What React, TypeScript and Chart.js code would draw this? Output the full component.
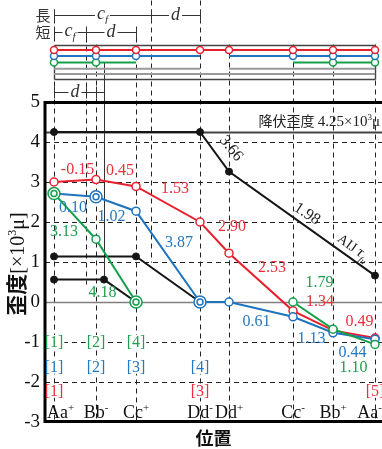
import React, { useEffect, useRef } from 'react';
import { Chart, registerables } from 'chart.js';

Chart.register(...registerables);

// ---------------- data ----------------
const POSITIONS = [0, 42, 82, 146, 175, 239, 279, 321];
const POSITION_NAMES = ['Aa', 'Bb', 'Cc', 'Dd', 'Dd', 'Cc', 'Bb', 'Aa'];
const POSITION_SIGNS = ['+', '-', '+', '-', '+', '-', '+', '-'];

const RED_STRAIN = [3.0, 3.06, 2.89, 2.0, 1.22, -0.22, -0.71, -0.9];
const BLUE_STRAIN = [2.71, 2.63, 2.27, 0, 0, -0.37, -0.77, -0.93];
const GREEN_STRAIN: (number | null)[] = [2.71, 1.57, 0, null, null, 0, -0.68, -1.06];

const AIJ_X = [0, 146, 175, 321];
const AIJ_STRAIN = [4.25, 4.25, 3.26, 0.66];
const MID_X = [0, 82, 146];
const MID_STRAIN = [1.14, 1.14, 0];
const LOW_X = [0, 50, 82];
const LOW_STRAIN = [0.56, 0.56, 0];

const YIELD_STRAIN = 4.25;
const Y_TICKS = [-3, -2, -1, 0, 1, 2, 3, 4, 5];
const GRID_Y = [-2, -1, 1, 2, 3, 4];

const BLUE_DOUBLE = [1, 3];
const GREEN_DOUBLE = [0, 2];

const RED_SEG_TEXT = ['-0.15', '0.45', '1.53', '2.90', '2.53', '1.34', '0.49'];
const RED_SEG_X = [23.5, 66, 121, 178, 218, 266, 305.5];
const RED_SEG_Y = [3.3, 3.28, 2.83, 1.88, 0.85, 0.0, -0.5];
const BLUE_SEG_TEXT = ['0.10', '1.02', '3.87', '0.61', '1.13', '0.44'];
const BLUE_SEG_X = [19, 57.5, 125, 202.5, 257.5, 298.5];
const BLUE_SEG_Y = [2.35, 2.13, 1.48, -0.5, -0.93, -1.28];
const GREEN_SEG_TEXT = ['3.13', '4.18', '1.79', '1.10'];
const GREEN_SEG_X = [10, 48.5, 265.5, 299.5];
const GREEN_SEG_Y = [1.75, 0.23, 0.48, -1.65];
const AIJ_SEG_TEXT = ['3.66', '1.98'];
const AIJ_SEG_X = [177, 253];
const AIJ_SEG_Y = [3.84, 2.2];

const GREEN_BRACKETS = ['[1]', '[2]', '[4]'];
const GREEN_BRACKET_AT = [0, 1, 2];
const BLUE_BRACKETS = ['[1]', '[2]', '[3]', '[4]'];
const BLUE_BRACKET_AT = [0, 1, 2, 3];
const RED_BRACKETS = ['[1]', '[3]', '[5]'];
const RED_BRACKET_AT = [0, 3, 7];

// member diagram (segments as index ranges, joints with circles)
const RED_MEMBER_SEGMENTS = [[0, 7]];
const RED_MEMBER_JOINTS = [0, 1, 2, 3, 4, 5, 6, 7];
const BLUE_MEMBER_SEGMENTS = [[0, 3], [4, 7]];
const BLUE_MEMBER_JOINTS = [0, 1, 2, 5, 6, 7];
const GREEN_MEMBER_SEGMENTS = [[0, 2], [5, 7]];
const GREEN_MEMBER_JOINTS = [0, 1, 6, 7];
const GREY_UPPER_SEGMENTS = [[0, 3], [4, 7]];
const GREY_LOWER_SEGMENTS = [[0, 7]];

const CF_SHORT_END = 32;
const CF_LONG_END = 97;
const LOWER_MARK = 50;

// ---------------- layout / style ----------------
const X_MIN = -9, X_MAX = 328, Y_MIN = -3, Y_MAX = 7.55;
const ROW = { long: 7.18, short: 6.75, boxTop: 6.43, red: 6.3, blue: 6.15, green: 5.99, greyU: 5.83, greyL: 5.7, boxBottom: 5.57, lowerDim: 5.25 };
const RED = '#e8202e', BLUE = '#1f74bf', GREEN = '#14a04b', BLACK = '#151515';
const RED_T = '#e8303a', BLUE_T = '#2478c2', GREEN_T = '#1f9e4c';
const SERIF = '"Liberation Serif","DejaVu Serif",serif';
const CJK = '"Noto Sans CJK JP","Noto Sans CJK SC",sans-serif';

type Part = { text: string; font: string; dy?: number; color?: string };

function partsWidth(ctx: CanvasRenderingContext2D, parts: Part[]) {
  let w = 0;
  for (const p of parts) { ctx.font = p.font; w += ctx.measureText(p.text).width; }
  return w;
}
function drawParts(ctx: CanvasRenderingContext2D, parts: Part[], x: number, y: number, align: string, color: string, bg = false) {
  const w = partsWidth(ctx, parts);
  let sx = align === 'center' ? x - w / 2 : align === 'right' ? x - w : x;
  if (bg) { ctx.fillStyle = '#fff'; ctx.fillRect(sx - 2, y - 13, w + 4, 17); }
  ctx.textAlign = 'left';
  ctx.textBaseline = 'alphabetic';
  for (const p of parts) {
    ctx.font = p.font;
    ctx.fillStyle = p.color || color;
    ctx.fillText(p.text, sx, y + (p.dy || 0));
    sx += ctx.measureText(p.text).width;
  }
  return w;
}

function buildRow(segments: number[][], joints: number[], yv: number) {
  const data: any[] = [];
  const radii: number[] = [];
  segments.forEach(([a, b], si) => {
    if (si > 0) { data.push({ x: (POSITIONS[a - 1] + POSITIONS[a]) / 2, y: null }); radii.push(0); }
    for (let i = a; i <= b; i++) { data.push({ x: POSITIONS[i], y: yv }); radii.push(joints.includes(i) ? 3.5 : 0); }
  });
  return { data, radii };
}

const customPlugin = {
  id: 'custom',
  beforeDatasetsDraw(chart: any) {
    const { ctx, chartArea: ca, scales } = chart;
    const X = (v: number) => Math.round(scales.x.getPixelForValue(v)) + 0.5;
    const Y = (v: number) => Math.round(scales.y.getPixelForValue(v)) + 0.5;
    const line = (x1: number, y1: number, x2: number, y2: number) => { ctx.beginPath(); ctx.moveTo(x1, y1); ctx.lineTo(x2, y2); ctx.stroke(); };
    ctx.save();
    // dashed grid
    ctx.setLineDash([5, 4]);
    ctx.lineWidth = 1;
    ctx.strokeStyle = '#222';
    GRID_Y.forEach(v => line(ca.left, Y(v), ca.right, Y(v)));
    const tops = [ROW.long + 0.15, ROW.boxTop + 0.03, ROW.short + 0.1, Y_MAX, ROW.boxTop + 0.03, ROW.boxTop + 0.03, ROW.boxTop + 0.03, ROW.boxTop + 0.03];
    POSITIONS.forEach((p, i) => line(X(p), Y(tops[i]), X(p), Y(Y_MIN)));
    line(X(CF_SHORT_END), Y(ROW.short + 0.1), X(CF_SHORT_END), Y(0.45));
    line(X(CF_LONG_END), Y(Y_MAX), X(CF_LONG_END), Y(1.0));
    ctx.setLineDash([]);
    ctx.strokeStyle = '#333';
    line(X(LOWER_MARK), Y(ROW.green), X(LOWER_MARK), Y(LOW_STRAIN[1]));
    // zero line and yield line
    ctx.strokeStyle = '#808080'; ctx.lineWidth = 1.5;
    line(ca.left, Y(0), ca.right, Y(0));
    ctx.strokeStyle = '#444'; ctx.lineWidth = 2;
    line(ca.left, Y(YIELD_STRAIN), ca.right, Y(YIELD_STRAIN));
    // frame
    ctx.strokeStyle = '#000'; ctx.lineWidth = 3;
    line(ca.left, Y(5), ca.right, Y(5));
    line(ca.left, Y(Y_MIN) - 1, ca.right, Y(Y_MIN) - 1);
    line(ca.left, Y(5) - 1.5, ca.left, Y(Y_MIN) + 0.5);
    // member box
    ctx.strokeStyle = '#444'; ctx.lineWidth = 1.4;
    line(X(POSITIONS[0]), Y(ROW.boxTop), X(POSITIONS[7]), Y(ROW.boxTop));
    line(X(POSITIONS[0]), Y(ROW.boxBottom), X(POSITIONS[7]), Y(ROW.boxBottom));
    line(X(POSITIONS[0]), Y(ROW.boxTop), X(POSITIONS[0]), Y(ROW.boxBottom));
    line(X(POSITIONS[7]), Y(ROW.boxTop), X(POSITIONS[7]), Y(ROW.boxBottom));
    // dimension lines
    ctx.strokeStyle = '#333'; ctx.lineWidth = 1;
    const dim = (yv: number, xs: number[]) => {
      line(X(xs[0]), Y(yv), X(xs[xs.length - 1]), Y(yv));
      xs.forEach(xv => line(X(xv), Y(yv) - 6, X(xv), Y(yv) + 6));
    };
    dim(ROW.long, [POSITIONS[0], CF_LONG_END, POSITIONS[3]]);
    dim(ROW.short, [POSITIONS[0], CF_SHORT_END, POSITIONS[2]]);
    dim(ROW.lowerDim, [POSITIONS[0], CF_SHORT_END, POSITIONS[1], LOWER_MARK]);
    ctx.restore();
  },
  afterDatasetsDraw(chart: any) {
    const { ctx, chartArea: ca, scales } = chart;
    const X = (v: number) => scales.x.getPixelForValue(v);
    const Y = (v: number) => scales.y.getPixelForValue(v);
    ctx.save();
    const num = `16px ${SERIF}`;
    const label = (txt: string, xv: number, yv: number, color: string) => {
      ctx.font = num; ctx.fillStyle = color; ctx.textAlign = 'center'; ctx.textBaseline = 'middle';
      ctx.fillText(txt, X(xv), Y(yv));
    };
    RED_SEG_TEXT.forEach((t, i) => label(t, RED_SEG_X[i], RED_SEG_Y[i], RED_T));
    BLUE_SEG_TEXT.forEach((t, i) => label(t, BLUE_SEG_X[i], BLUE_SEG_Y[i], BLUE_T));
    GREEN_SEG_TEXT.forEach((t, i) => label(t, GREEN_SEG_X[i], GREEN_SEG_Y[i], GREEN_T));
    // rotated AIJ labels
    const segAngle = (k: number) => Math.atan2(Y(AIJ_STRAIN[k + 1]) - Y(AIJ_STRAIN[k]), X(AIJ_X[k + 1]) - X(AIJ_X[k]));
    AIJ_SEG_TEXT.forEach((t, i) => {
      ctx.save();
      ctx.translate(X(AIJ_SEG_X[i]), Y(AIJ_SEG_Y[i]));
      ctx.rotate(segAngle(i + 1) - 0.05);
      ctx.font = num; ctx.fillStyle = '#222'; ctx.textAlign = 'center'; ctx.textBaseline = 'middle';
      ctx.fillText(t, 0, 0);
      ctx.restore();
    });
    ctx.save();
    ctx.translate(X(300), Y(1.375));
    ctx.rotate(segAngle(2));
    drawParts(ctx, [
      { text: 'AIJ ', font: `14px ${SERIF}` },
      { text: 'τ', font: `italic 15px ${SERIF}` },
      { text: 'fu', font: `italic 9px ${SERIF}`, dy: 4 },
    ], 0, 5, 'center', '#222');
    ctx.restore();
    // yield label
    drawParts(ctx, [
      { text: '降伏歪度 ', font: `14px ${CJK}` },
      { text: '4.25×10', font: `15px ${SERIF}` },
      { text: '3', font: `9px ${SERIF}`, dy: -6 },
      { text: 'μ', font: `15px ${SERIF}` },
    ], ca.right - 2, Y(4.4), 'right', '#222');
    // brackets
    const brackets = (texts: string[], at: number[], yv: number, color: string) => {
      texts.forEach((t, i) => {
        ctx.font = `16px ${SERIF}`;
        const w = ctx.measureText(t).width;
        const cx = X(POSITIONS[at[i]]);
        const bx = Math.max(ca.left + 2, cx - w / 2 - 1);
        ctx.fillStyle = '#fff';
        ctx.fillRect(bx, Y(yv) - 7, cx + w / 2 + 1 - bx, 14);
        ctx.fillStyle = color; ctx.textAlign = 'center'; ctx.textBaseline = 'middle';
        ctx.fillText(t, cx, Y(yv) + 1);
      });
    };
    brackets(GREEN_BRACKETS, GREEN_BRACKET_AT, -1, GREEN_T);
    brackets(BLUE_BRACKETS, BLUE_BRACKET_AT, -1.62, BLUE_T);
    brackets(RED_BRACKETS, RED_BRACKET_AT, -2.22, RED_T);
    // position labels inside plot
    POSITIONS.forEach((p, i) => {
      const parts: Part[] = [
        { text: POSITION_NAMES[i], font: `18px ${SERIF}` },
        { text: POSITION_SIGNS[i], font: `11px ${SERIF}`, dy: -7 },
      ];
      const w = partsWidth(ctx, parts);
      let cx = X(p);
      cx = Math.max(ca.left + 2 + w / 2, Math.min(ca.right - w / 2, cx));
      drawParts(ctx, parts, cx, Y(-2.9), 'center', '#111');
    });
    // dimension labels
    const cf = (a: number, b: number, yv: number) => drawParts(ctx, [
      { text: 'c', font: `italic 18px ${SERIF}` },
      { text: 'f', font: `italic 11px ${SERIF}`, dy: 4 },
    ], (X(a) + X(b)) / 2, Y(yv) + 4, 'center', '#333', true);
    const dl = (a: number, b: number, yv: number, shift = 0) => drawParts(ctx, [
      { text: 'd', font: `italic 18px ${SERIF}` },
    ], (X(a) + X(b)) / 2 + shift, Y(yv) + 5, 'center', '#333', true);
    cf(POSITIONS[0], CF_LONG_END, ROW.long);
    dl(CF_LONG_END, POSITIONS[3], ROW.long);
    cf(POSITIONS[0], CF_SHORT_END, ROW.short);
    dl(CF_SHORT_END, POSITIONS[2], ROW.short);
    dl(POSITIONS[0], CF_SHORT_END, ROW.lowerDim, 5);
    ctx.font = `15px ${CJK}`; ctx.fillStyle = '#333'; ctx.textAlign = 'center'; ctx.textBaseline = 'middle';
    ctx.fillText('長', 43, Y(ROW.long));
    ctx.fillText('短', 43, Y(ROW.short));
    // y title
    ctx.save();
    ctx.translate(17, Y(1.0) + 2);
    ctx.rotate(-Math.PI / 2);
    drawParts(ctx, [
      { text: '歪度', font: `bold 21px ${CJK}` },
      { text: '[×10', font: `20px ${SERIF}` },
      { text: '3', font: `12px ${SERIF}`, dy: -8 },
      { text: 'μ]', font: `20px ${SERIF}` },
    ], 0, 7, 'center', '#111');
    ctx.restore();
    ctx.restore();
  },
};

export default function App() {
  const ref = useRef<HTMLCanvasElement>(null);
  useEffect(() => {
    const canvas = ref.current;
    if (!canvas) return;
    const pts = (xs: number[], ys: (number | null)[]) => xs.map((x, i) => ({ x, y: ys[i] }));
    const rowDs = (segs: number[][], joints: number[], yv: number, color: string, width = 2) => {
      const r = buildRow(segs, joints, yv);
      return {
        data: r.data, borderColor: color, borderWidth: width, pointRadius: r.radii,
        pointBackgroundColor: '#fff', pointBorderColor: color, pointBorderWidth: 1.5, spanGaps: false, order: 30,
      };
    };
    const mainDs = (ys: (number | null)[], color: string, doubles: number[], order: number) => ({
      data: pts(POSITIONS, ys), borderColor: color, borderWidth: 2,
      pointRadius: POSITIONS.map((_, i) => (doubles.includes(i) ? 6 : 4)),
      pointBackgroundColor: '#fff', pointBorderColor: color, pointBorderWidth: 1.5, spanGaps: false, order,
    });
    const innerDs = (ys: (number | null)[], color: string, doubles: number[], order: number) => ({
      data: doubles.map(i => ({ x: POSITIONS[i], y: ys[i] })), showLine: false, pointRadius: 3,
      pointBackgroundColor: '#fff', pointBorderColor: color, pointBorderWidth: 1.5, order,
    });
    const blackDs = (xs: number[], ys: number[], radii: number[]) => ({
      data: pts(xs, ys), borderColor: BLACK, borderWidth: 2, pointRadius: radii,
      pointBackgroundColor: BLACK, pointBorderColor: BLACK, pointBorderWidth: 1, order: 10,
    });
    const chart = new Chart(canvas, {
      type: 'line',
      data: {
        datasets: [
          rowDs(GREY_UPPER_SEGMENTS, [], ROW.greyU, '#9a9a9a'),
          rowDs(GREY_LOWER_SEGMENTS, [], ROW.greyL, '#9a9a9a'),
          rowDs(RED_MEMBER_SEGMENTS, RED_MEMBER_JOINTS, ROW.red, RED),
          rowDs(BLUE_MEMBER_SEGMENTS, BLUE_MEMBER_JOINTS, ROW.blue, BLUE),
          rowDs(GREEN_MEMBER_SEGMENTS, GREEN_MEMBER_JOINTS, ROW.green, GREEN),
          blackDs(AIJ_X, AIJ_STRAIN, [3.5, 3.5, 3.5, 3.5]),
          blackDs(MID_X, MID_STRAIN, [3.5, 3.5, 0]),
          blackDs(LOW_X, LOW_STRAIN, [3.5, 3.5, 0]),
          mainDs(RED_STRAIN, RED, [], 6),
          mainDs(BLUE_STRAIN, BLUE, BLUE_DOUBLE, 5),
          mainDs(GREEN_STRAIN, GREEN, GREEN_DOUBLE, 4),
          innerDs(BLUE_STRAIN, BLUE, BLUE_DOUBLE, 2),
          innerDs(GREEN_STRAIN, GREEN, GREEN_DOUBLE, 1),
        ] as any,
      },
      options: {
        animation: false,
        responsive: false,
        events: [],
        layout: { padding: 0, autoPadding: false },
        plugins: { legend: { display: false }, tooltip: { enabled: false } },
        elements: { line: { tension: 0 } },
        scales: {
          x: {
            type: 'linear', min: X_MIN, max: X_MAX,
            grid: { display: false, drawTicks: false }, border: { display: false },
            ticks: { display: false },
            title: { display: true, text: '位置', color: '#111', font: { family: CJK, size: 18, weight: 'bold' }, padding: { top: 0, bottom: 0 } },
            afterFit: (s: any) => { s.height = 27; s.paddingLeft = 0; s.paddingRight = 0; },
          },
          y: {
            type: 'linear', min: Y_MIN, max: Y_MAX,
            grid: { display: false, drawTicks: false }, border: { display: false },
            afterBuildTicks: (s: any) => { s.ticks = Y_TICKS.map(v => ({ value: v })); },
            ticks: { color: '#111', padding: 5, font: { family: SERIF, size: 19 }, callback: (v: any) => String(v) },
            afterFit: (s: any) => { s.width = 45; s.paddingTop = 0; s.paddingBottom = 0; },
          },
        },
      } as any,
      plugins: [customPlugin],
    });
    return () => chart.destroy();
  }, []);
  return (
    <div style={{ position: 'fixed', left: 0, top: 0, width: 382, height: 449, background: '#fff' }}>
      <canvas ref={ref} width={382} height={449} style={{ display: 'block' }} />
    </div>
  );
}
